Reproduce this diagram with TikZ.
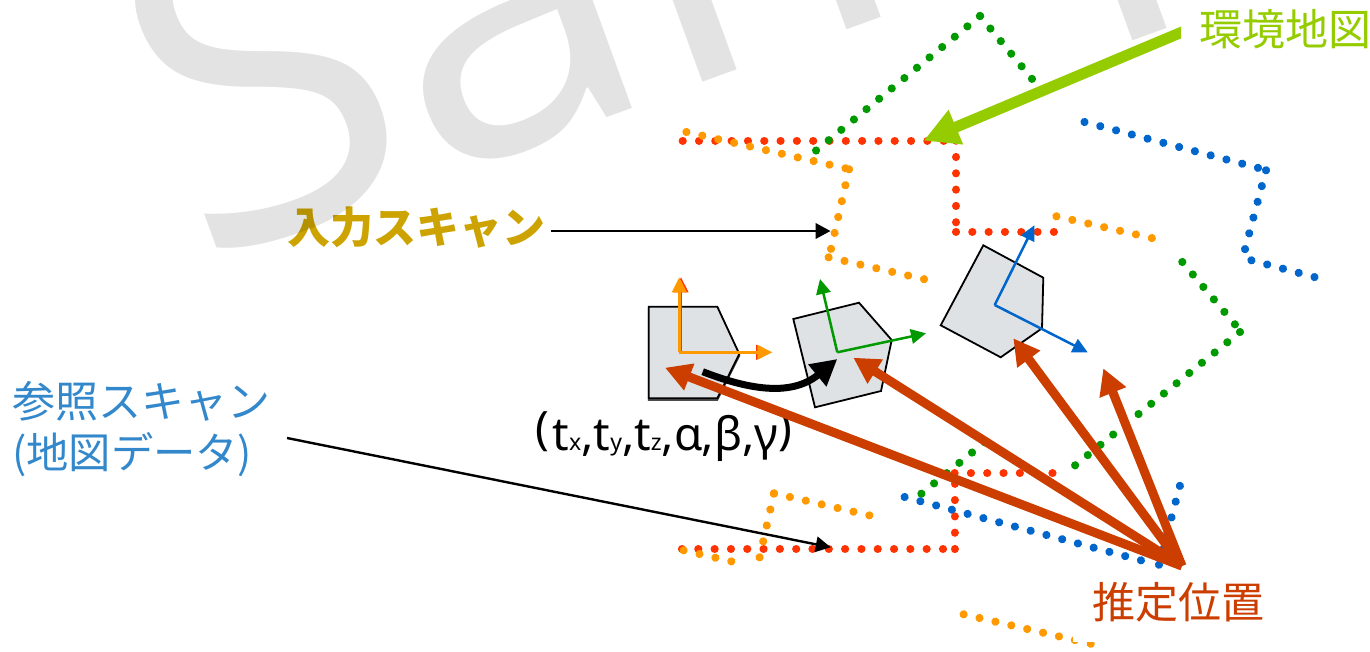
\documentclass[tikz,border=0pt]{standalone}
\usepackage{fontspec}
\usetikzlibrary{arrows.meta}
\setmainfont{Noto Sans}
\newfontfamily\cjk{Noto Sans CJK JP}
\newfontfamily\wmfont{Open Sans}
\definecolor{redd}{HTML}{FF3300}
\definecolor{oran}{HTML}{FF9900}
\definecolor{gree}{HTML}{009900}
\definecolor{blu}{HTML}{0066CC}
\definecolor{brow}{HTML}{CC3D00}
\definecolor{lime}{HTML}{94CC00}
\definecolor{gold}{HTML}{CCA300}
\definecolor{skyb}{HTML}{3388CC}
\definecolor{penta}{HTML}{DFE2E5}
\tikzset{
  x=1pt,y=-1pt,
  dotsline/.style={line width=8.2pt,line cap=round,dash pattern=on 0.01pt off 16.3pt},
  rd/.style={dotsline,draw=redd},
  od/.style={dotsline,draw=oran},
  gd/.style={dotsline,draw=gree},
  bd/.style={dotsline,draw=blu},
  pentagon/.style={draw=black,line width=1.8pt,fill=penta,line join=miter},
  framearrow/.style={line width=2.5pt,-{Triangle[length=15pt,width=14.5pt]}},
  estarrow/.style={draw=brow,line width=9pt,-{Triangle[length=26pt,width=27pt]}},
  thinarrow/.style={draw=black,line width=2.4pt,-{Triangle[length=15pt,width=15.5pt]}},
  lab/.style={font=\cjk\fontsize{43}{50}\selectfont,inner sep=0pt},
}
\begin{document}
\begin{tikzpicture}
\useasboundingbox (0,0) rectangle (1370,651);
\clip (0,0) rectangle (1370,651);
% red map scan
\draw[rd] (682.7,140.7) -- (956,140.7);
\draw[rd] (956,140.7) -- (956,231.7);
\draw[rd] (956,231.7) -- (1056,231.7);
\draw[rd] (682,549) -- (954.6,549);
\draw[rd] (954.6,549) -- (954.6,473.3);
\draw[rd] (954.6,473.3) -- (1054,473.3);
% orange input scan
\draw[od] (686.4,132) -- (846,168.4);
\draw[od] (849,169.3) -- (831,248.9);
\draw[od] (828.6,257.3) -- (925,279.4);
\draw[od] (1056.4,216.3) -- (1152,238.1);
\draw[od] (683.6,550.3) -- (747,565);
\draw[od] (759.6,557.3) -- (774,493.3);
\draw[od] (774,493.3) -- (869.5,515.4);
\draw[od] (963.6,614.3) -- (1106.5,647.4);
% green scan
\draw[gd] (980,16) -- (815.5,151);
\draw[gd] (980,16) -- (1032.5,79.5);
\draw[gd] (1182.3,262) -- (1238,328);
\draw[gd] (1240,332) -- (1074,466.2);
\draw[gd] (921.4,493.7) -- (985,442);
% blue scan
\draw[bd] (1084.5,122) -- (1258.5,168);
\draw[bd] (1266,170.3) -- (1245,249.2);
\draw[bd] (1251.4,260.3) -- (1315,277.2);
\draw[bd] (904.6,497) -- (1156.2,564.4);
\draw[bd] (1159,564.7) -- (1184,470.2);
% vehicle poses
\draw[pentagon,draw=black!70] (648.7,308.4) -- (717.3,308.4) -- (739.3,355.7) -- (717.3,400) -- (648.7,400) -- cycle;
\draw[pentagon] (648.7,306.7) -- (717.3,306.7) -- (739.3,354) -- (717.3,398.3) -- (648.7,398.3) -- cycle;
\draw[pentagon] (793.3,319) -- (859,302.7) -- (891.7,340) -- (881,391) -- (815,407.3) -- cycle;
\draw[pentagon] (983.3,245.3) -- (1043.3,277.7) -- (1042,328.3) -- (1000.7,357.3) -- (940.7,325.3) -- cycle;
% coordinate frames
\coordinate (oa) at (679.3,352.3);
\coordinate (oar) at (681,352.3);
\coordinate (ob) at (837.3,352.3);
\coordinate (oc) at (994.7,305);
\draw[framearrow,redd] (oar) -- (681,277.3);
\draw[framearrow,redd] (oar) -- (771,352.3);
\draw[framearrow,oran] (oa) -- (679.3,277.3);
\draw[framearrow,oran] (oa) -- (772.3,352.3);
\draw[framearrow,gree] (ob) -- (820,279);
\draw[framearrow,gree] (ob) -- (926,333.3);
\draw[framearrow,blu] (oc) -- (1034.3,225.3);
\draw[framearrow,blu] (oc) -- (1087.7,352.3);
% motion
\coordinate (mstart) at (702.7,371.7);
\coordinate (mend) at (837.3,359);
\draw[line width=7pt,-{Triangle[length=26pt,width=27pt]}] (mstart) .. controls (745,388) and (790,398) .. (mend);
\node[anchor=base,inner sep=0pt,font=\fontsize{46}{50}\selectfont] (pose) at (664,450) {\raisebox{6pt}{(}\hspace{3pt}t{\fontsize{23}{25}\selectfont x},t{\fontsize{23}{25}\selectfont y},t{\fontsize{23}{25}\selectfont z},α,β,γ\raisebox{6pt}{)}};
% estimated position arrows
\node[lab,text=brow,anchor=base,fill=white,inner xsep=19pt,text height=46pt,text depth=24pt] (est) at (1178,618) {推定位置};
\coordinate (ep) at (1182,566);
\draw[estarrow] (ep) -- (665,367.7);
\draw[estarrow] (ep) -- (853.3,357.7);
\draw[estarrow] (ep) -- (1013.3,338.3);
\draw[estarrow] (ep) -- (1103.3,368.3);
% labels
\node[lab,text=gold,anchor=base,font=\cjk\bfseries\fontsize{43}{50}\selectfont] (inp) at (416,243.5) {入力スキャン};
\coordinate (inptip) at (830.5,231);
\draw[thinarrow] (551,231) -- (inptip);
\node[lab,text=lime,anchor=base west] (env) at (1181,45) {\hspace{18pt}環境地図};
\coordinate (envtip) at (923.6,140.7);
\begin{scope}
\clip (0,0) rectangle (1181,651);
\draw[draw=lime,line width=11pt,-{Triangle[length=35pt,width=35pt]}] (1190,28.7) -- (envtip);
\end{scope}
\node[lab,text=skyb,anchor=base west] (ref1) at (12,417) {参照スキャン};
\node[lab,text=skyb,anchor=base west,font=\cjk\fontsize{42.3}{50}\selectfont] (ref2) at (12,468) {(地図データ)};
\coordinate (reftip) at (830.7,547.3);
\coordinate (refstart) at (287,438);
\draw[thinarrow] (refstart) -- (reftip);
% watermark
\node[anchor=base west,inner sep=0pt,rotate=20,text=black,text opacity=0.11,font=\wmfont\fontsize{450}{450}\selectfont] (wm) at (198.7,266) {Sample};
\end{tikzpicture}
\end{document}
